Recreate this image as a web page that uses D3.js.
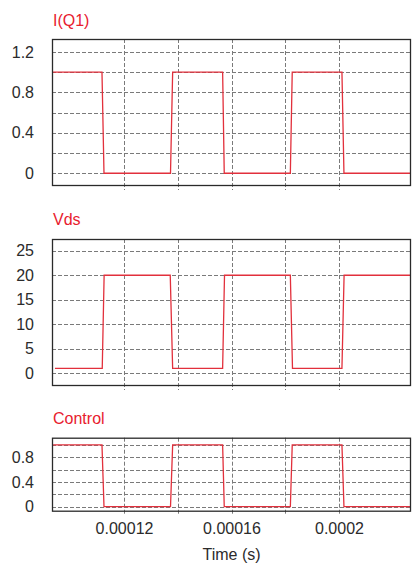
<!DOCTYPE html>
<html>
<head>
<meta charset="utf-8">
<script src="https://cdn.jsdelivr.net/npm/d3@7/dist/d3.min.js"></script>
<style>
  html, body { margin: 0; padding: 0; background: #fff; }
  svg { display: block; font-family: "Liberation Sans", Arial, sans-serif; }
</style>
</head>
<body>
<svg id="chart" width="412" height="569"></svg>
<script>
// ---- data (time in seconds) ----
const xDomain = [93.2e-6, 226.8e-6];
const xGrid = [1.2e-4, 1.4e-4, 1.6e-4, 1.8e-4, 2.0e-4];
const xTickValues = [1.2e-4, 1.6e-4, 2.0e-4];
const xTickLabels = ["0.00012", "0.00016", "0.0002"];
const xTitle = "Time (s)";

const iq1Time = [93.6e-6, 111.8e-6, 112.55e-6, 137.3e-6, 138.1e-6, 156.7e-6, 157.3e-6, 181.9e-6, 182.6e-6, 201.1e-6, 201.85e-6, 226.8e-6];
const iq1Value = [1, 1, 0, 0, 1, 1, 0, 0, 1, 1, 0, 0];

const vdsTime = [94.3e-6, 111.9e-6, 112.6e-6, 137.2e-6, 138.1e-6, 156.7e-6, 157.4e-6, 181.9e-6, 182.7e-6, 201.1e-6, 201.9e-6, 226.8e-6];
const vdsValue = [1, 1, 20, 20, 1, 1, 20, 20, 1, 1, 20, 20];

const ctrlTime = [93.6e-6, 111.8e-6, 112.55e-6, 137.3e-6, 138.1e-6, 156.7e-6, 157.3e-6, 181.9e-6, 182.6e-6, 201.1e-6, 201.85e-6, 226.8e-6];
const ctrlValue = [1, 1, 0, 0, 1, 1, 0, 0, 1, 1, 0, 0];

const iq1Grid = [0, 0.2, 0.4, 0.6, 0.8, 1.0, 1.2];
const iq1Ticks = [0, 0.4, 0.8, 1.2];
const vdsGrid = [0, 5, 10, 15, 20, 25];
const vdsTicks = [0, 5, 10, 15, 20, 25];
const ctrlGrid = [0, 0.2, 0.4, 0.6, 0.8, 1.0];
const ctrlTicks = [0, 0.4, 0.8];

// ---- layout ----
const left = 52, right = 411;
const panels = [
  { title: "I(Q1)", time: iq1Time, value: iq1Value, grid: iq1Grid, ticks: iq1Ticks,
    domain: [-0.126, 1.328], top: 39, bottom: 186, titleY: 26 },
  { title: "Vds", time: vdsTime, value: vdsValue, grid: vdsGrid, ticks: vdsTicks,
    domain: [-2.59, 27.39], top: 239, bottom: 386, titleY: 225 },
  { title: "Control", time: ctrlTime, value: ctrlValue, grid: ctrlGrid, ticks: ctrlTicks,
    domain: [-0.081, 1.117], top: 437.7, bottom: 511.7, titleY: 424 }
];

const red = "#e2303c";
const gridColor = "#7a7a7a";
const svg = d3.select("#chart");
const x = d3.scaleLinear().domain(xDomain).range([left, right]);

panels.forEach(p => {
  const y = d3.scaleLinear().domain(p.domain).range([p.bottom, p.top]);
  const g = svg.append("g");

  // horizontal grid
  g.selectAll(".hg").data(p.grid).enter().append("line")
    .attr("x1", left).attr("x2", right)
    .attr("y1", d => Math.round(y(d)) + 0.5).attr("y2", d => Math.round(y(d)) + 0.5)
    .attr("stroke", gridColor).attr("stroke-width", 1).attr("stroke-dasharray", "4,2");

  // vertical grid (extends slightly below box)
  g.selectAll(".vg").data(xGrid).enter().append("line")
    .attr("x1", d => Math.round(x(d)) + 0.5).attr("x2", d => Math.round(x(d)) + 0.5)
    .attr("y1", p.top).attr("y2", p.bottom + 4)
    .attr("stroke", gridColor).attr("stroke-width", 1).attr("stroke-dasharray", "4,2");

  // y tick labels via axis
  const axis = d3.axisLeft(y).tickValues(p.ticks).tickSize(0).tickPadding(0)
    .tickFormat(d => d3.format("~g")(d));
  const ag = g.append("g").attr("transform", `translate(34,0)`).call(axis);
  ag.select(".domain").remove();
  ag.selectAll("text").attr("font-size", 16).attr("fill", "#2b2b2b")
    .attr("font-family", "'Liberation Sans', Arial, sans-serif");

  // waveform
  const pts = p.time.map((t, i) => [t, p.value[i]]);
  const line = d3.line().x(d => x(d[0])).y(d => y(d[1]));
  g.append("path").datum(pts).attr("d", line)
    .attr("fill", "none").attr("stroke", red).attr("stroke-width", 1.3);

  // frame
  g.append("rect").attr("x", left + 0.5).attr("y", p.top + 0.5)
    .attr("width", right - left - 1).attr("height", p.bottom - p.top - 1)
    .attr("fill", "none").attr("stroke", "#2a2a2a").attr("stroke-width", 1.3);

  // title
  g.append("text").attr("x", 53).attr("y", p.titleY).text(p.title)
    .attr("font-size", 16).attr("fill", "#e8202e");
});

// x tick labels (bottom)
const xb = svg.append("g").attr("transform", "translate(0,523)")
  .call(d3.axisBottom(x).tickValues(xTickValues).tickSize(0).tickPadding(0)
    .tickFormat((d, i) => xTickLabels[i]));
xb.select(".domain").remove();
xb.selectAll("text").attr("font-size", 16).attr("fill", "#2b2b2b")
  .attr("font-family", "'Liberation Sans', Arial, sans-serif");

svg.append("text").attr("x", (left + right) / 2).attr("y", 560)
  .attr("text-anchor", "middle").attr("font-size", 16).attr("fill", "#2b2b2b")
  .text(xTitle);
</script>
</body>
</html>
